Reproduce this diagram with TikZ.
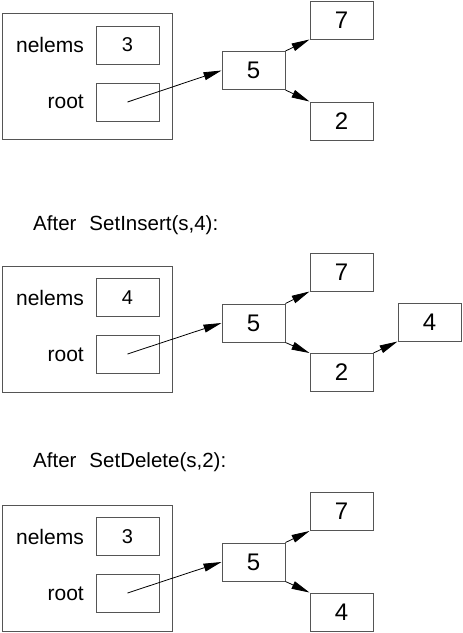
\documentclass[tikz,border=0pt]{standalone}
\usepackage{fontspec}
\setmainfont{Liberation Sans}
\usetikzlibrary{arrows.meta}
\definecolor{boxgray}{RGB}{85,85,85}
\begin{document}
\begin{tikzpicture}[x=1pt,y=-1pt,
  cell/.style={draw=boxgray, line width=1pt, minimum width=63pt, minimum height=38pt, inner sep=0pt, font=\fontsize{24}{28}\selectfont},
  valbox/.style={cell, font=\fontsize{20}{24}\selectfont},
  outerbox/.style={draw=boxgray, line width=1pt, minimum width=170pt, minimum height=126pt, inner sep=0pt},
  lbl/.style={anchor=base east, inner sep=0pt, font=\fontsize{21}{25}\selectfont},
  caption/.style={anchor=base west, inner sep=0pt, font=\fontsize{20.5}{25}\selectfont},
  ptr/.style={-{Triangle[length=18pt,width=8pt]}, line width=0.8pt}]
\useasboundingbox (0,0) rectangle (463,633);

% ---- Section 1
\node[outerbox] (o1) at (87,76) {};
\node[valbox] (v1) at (127.5,45) {3};
\node[valbox] (r1) at (127.5,102) {};
\node[lbl] (ln1) at (84,52) {nelems};
\node[lbl] (lr1) at (84,108) {root};
\node[cell] (a5) at (253.5,70.5) {5};
\node[cell] (a7) at (341.5,20) {7};
\node[cell] (a2) at (341.5,121) {2};
\draw[ptr] (r1.center) -- (a5.west);
\draw[ptr] (a5.north east) -- (a7.south west);
\draw[ptr] (a5.south east) -- (a2.north west);

% ---- Section 2
\node[caption] (c2) at (33,230) {After\hspace{13pt}SetInsert(s,4):};
\node[outerbox] (o2) at (87,329) {};
\node[valbox] (v2) at (127.5,297.5) {4};
\node[valbox] (r2) at (127.5,354) {};
\node[lbl] (ln2) at (84,305) {nelems};
\node[lbl] (lr2) at (84,361) {root};
\node[cell] (b5) at (253.5,323) {5};
\node[cell] (b7) at (341.5,272) {7};
\node[cell] (b2) at (341.5,372.5) {2};
\node[cell] (b4) at (429.5,322) {4};
\draw[ptr] (r2.center) -- (b5.west);
\draw[ptr] (b5.north east) -- (b7.south west);
\draw[ptr] (b5.south east) -- (b2.north west);
\draw[ptr] (b2.north east) -- (b4.south west);

% ---- Section 3
\node[caption] (c3) at (33,467) {After\hspace{13pt}SetDelete(s,2):};
\node[outerbox] (o3) at (87,568.5) {};
\node[valbox] (v3) at (127.5,536.5) {3};
\node[valbox] (r3) at (127.5,593) {};
\node[lbl] (ln3) at (84,544) {nelems};
\node[lbl] (lr3) at (84,600) {root};
\node[cell] (d5) at (253.5,562) {5};
\node[cell] (d7) at (341.5,511.5) {7};
\node[cell] (d4) at (341.5,612) {4};
\draw[ptr] (r3.center) -- (d5.west);
\draw[ptr] (d5.north east) -- (d7.south west);
\draw[ptr] (d5.south east) -- (d4.north west);
\end{tikzpicture}
\end{document}
